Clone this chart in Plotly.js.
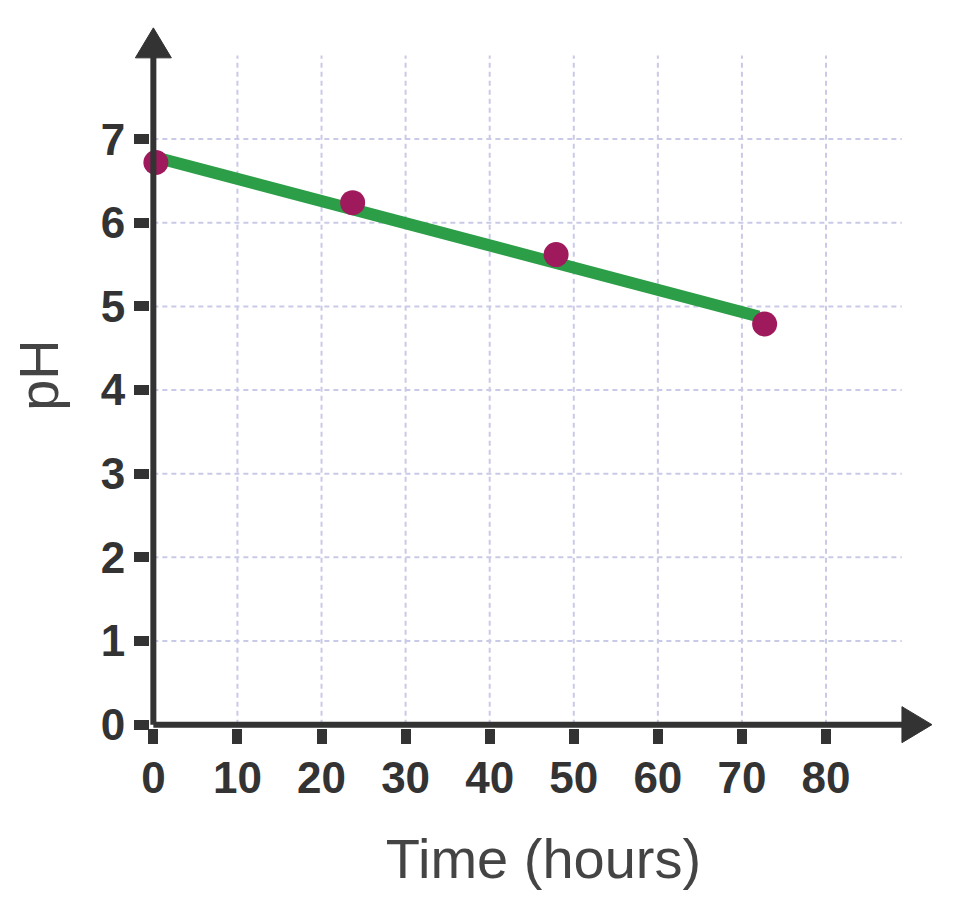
<!DOCTYPE html>
<html>
<head>
<meta charset="utf-8">
<script src="https://cdn.plot.ly/plotly-3.0.1.min.js"></script>
<style>html,body{margin:0;padding:0;background:#fff;}#chart{width:969px;height:910px;}</style>
</head>
<body>
<div id="chart"></div>
<script>
// Measured data points (time in hours, pH)
const timeHours = [0.3, 23.7, 47.9, 72.7];
const phValues = [6.72, 6.24, 5.62, 4.79];
// Best-fit line end points
const fitTime = [0, 72];
const fitPh = [6.79, 4.88];
// Tick values
const xTicks = [0, 10, 20, 30, 40, 50, 60, 70, 80];
const yTicks = [0, 1, 2, 3, 4, 5, 6, 7];
const xGridMax = 89;
const yGridMax = 8;
const xAxisEnd = 92.6;
const yAxisEnd = 8.33;
const xRange = [-0.4, 93.2];
const yRange = [-0.04, 8.4];

const axisColor = '#333333';
const gridStyle = {color: '#c9c9e8', width: 2, dash: '5px,4px'};
const toPaperX = v => (v - xRange[0]) / (xRange[1] - xRange[0]);
const toPaperY = v => (v - yRange[0]) / (yRange[1] - yRange[0]);

const shapes = [];
xTicks.filter(v => v > 0).forEach(v => shapes.push({
  type: 'line', xref: 'x', yref: 'y', x0: v, x1: v, y0: 0, y1: yGridMax,
  line: gridStyle, layer: 'below'
}));
yTicks.filter(v => v > 0).forEach(v => shapes.push({
  type: 'line', xref: 'x', yref: 'y', x0: 0, x1: xGridMax, y0: v, y1: v,
  line: gridStyle, layer: 'below'
}));
// axis lines (paper refs so they are not clipped)
shapes.push({type: 'line', xref: 'paper', yref: 'paper', x0: toPaperX(0), x1: toPaperX(xAxisEnd - 2),
  y0: toPaperY(0), y1: toPaperY(0), line: {color: axisColor, width: 6}, layer: 'above'});
shapes.push({type: 'line', xref: 'paper', yref: 'paper', x0: toPaperX(0), x1: toPaperX(0),
  y0: toPaperY(0), y1: toPaperY(yAxisEnd - 0.2), line: {color: axisColor, width: 6}, layer: 'above'});
// arrow heads
shapes.push({type: 'path', xref: 'paper', yref: 'paper', xsizemode: 'pixel', ysizemode: 'pixel',
  xanchor: toPaperX(xAxisEnd), yanchor: toPaperY(0), path: 'M0,0 L-30,18 L-30,-18 Z',
  fillcolor: axisColor, line: {color: axisColor, width: 1}, layer: 'above'});
shapes.push({type: 'path', xref: 'paper', yref: 'paper', xsizemode: 'pixel', ysizemode: 'pixel',
  xanchor: toPaperX(0), yanchor: toPaperY(yAxisEnd), path: 'M0,0 L-18,-30 L18,-30 Z',
  fillcolor: axisColor, line: {color: axisColor, width: 1}, layer: 'above'});

const traces = [
  {x: fitTime, y: fitPh, mode: 'lines', type: 'scatter',
   line: {color: '#2c9e48', width: 12}, hoverinfo: 'skip', showlegend: false},
  {x: timeHours, y: phValues, mode: 'markers', type: 'scatter',
   marker: {color: '#9e1a5c', size: 25}, cliponaxis: false, showlegend: false}
];

const tickFont = {family: 'Liberation Sans, Arial, sans-serif', size: 44, color: '#333', weight: 'bold'};
const titleFont = {family: 'Liberation Sans, Arial, sans-serif', size: 56, color: '#444'};

const layout = {
  width: 969, height: 910,
  margin: {l: 150, r: 32, t: 22, b: 182},
  paper_bgcolor: '#fff', plot_bgcolor: '#fff',
  showlegend: false,
  xaxis: {
    range: xRange, tickvals: xTicks, ticktext: xTicks.map(String),
    ticks: 'outside', ticklen: 15, tickwidth: 10, tickcolor: axisColor,
    showgrid: false, zeroline: false, showline: false,
    tickfont: tickFont, ticklabelstandoff: -4,
    title: {text: 'Time (hours)', font: titleFont, standoff: 38}
  },
  yaxis: {
    range: yRange, tickvals: yTicks, ticktext: yTicks.map(String),
    ticks: 'outside', ticklen: 15, tickwidth: 10, tickcolor: axisColor,
    showgrid: false, zeroline: false, showline: false,
    tickfont: tickFont,
    title: {text: 'pH', font: titleFont, standoff: 24}
  },
  shapes: shapes
};

Plotly.newPlot('chart', traces, layout, {staticPlot: true, displayModeBar: false});
</script>
</body>
</html>
